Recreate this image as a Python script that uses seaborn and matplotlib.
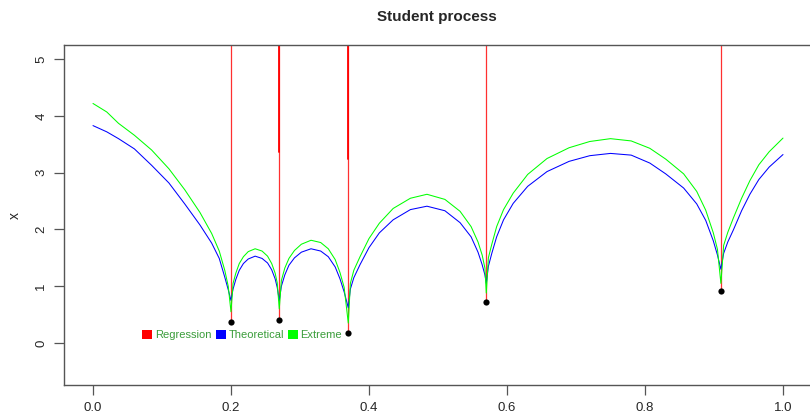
import numpy as np
import pandas as pd
import matplotlib
matplotlib.use("Agg")
import matplotlib.pyplot as plt
from matplotlib.patches import Patch
import seaborn as sns

# jump points, dots under them
jumps = [0.2, 0.27, 0.37, 0.57, 0.91]
dot_y = [0.37, 0.40, 0.18, 0.73, 0.92]
# thick red part of the vertical lines (start height)
thick_x = [0.27, 0.37]
thick_from = [3.37, 3.25]

# theoretical curve (blue)
theo_x = [0.0, 0.02, 0.037, 0.06, 0.085, 0.11, 0.133, 0.155, 0.172, 0.183, 0.191, 0.196, 0.2,
          0.203, 0.207, 0.212, 0.218, 0.225, 0.235, 0.245, 0.253, 0.259, 0.264, 0.267, 0.27,
          0.273, 0.278, 0.284, 0.292, 0.302, 0.316, 0.33, 0.341, 0.351, 0.358, 0.364, 0.37,
          0.373, 0.378, 0.387, 0.40, 0.415, 0.435, 0.46, 0.484, 0.51, 0.532, 0.548, 0.558, 0.564, 0.568, 0.57,
          0.573, 0.578, 0.585, 0.595, 0.609, 0.63, 0.658, 0.69, 0.72, 0.75, 0.78, 0.807, 0.83, 0.856, 0.875,
          0.888, 0.899, 0.905, 0.91,
          0.914, 0.92, 0.928, 0.94, 0.952, 0.965, 0.98, 1.0]
theo_y = [3.83, 3.72, 3.60, 3.42, 3.13, 2.82, 2.45, 2.08, 1.76, 1.49, 1.16, 0.94, 0.75,
          0.95, 1.12, 1.28, 1.40, 1.48, 1.53, 1.49, 1.41, 1.29, 1.13, 0.98, 0.75,
          1.00, 1.20, 1.37, 1.50, 1.60, 1.66, 1.62, 1.52, 1.34, 1.13, 0.90, 0.62,
          0.95, 1.15, 1.38, 1.68, 1.94, 2.17, 2.35, 2.41, 2.33, 2.12, 1.87, 1.60, 1.38, 1.20, 1.05,
          1.35, 1.58, 1.87, 2.17, 2.46, 2.76, 3.02, 3.20, 3.30, 3.34, 3.31, 3.17, 2.98, 2.73, 2.45,
          2.16, 1.80, 1.55, 1.30,
          1.58, 1.78, 1.99, 2.33, 2.62, 2.88, 3.10, 3.32]

# extreme curve (green)
ext_x = theo_x
ext_y = [4.22, 4.07, 3.87, 3.66, 3.40, 3.07, 2.70, 2.30, 1.93, 1.62, 1.28, 1.00, 0.55,
         1.05, 1.23, 1.40, 1.52, 1.61, 1.66, 1.62, 1.53, 1.40, 1.23, 1.06, 0.60,
         1.10, 1.32, 1.49, 1.63, 1.74, 1.81, 1.77, 1.66, 1.47, 1.24, 0.98, 0.35,
         1.05, 1.28, 1.52, 1.84, 2.11, 2.37, 2.55, 2.62, 2.53, 2.32, 2.05, 1.78, 1.55, 1.32, 0.88,
         1.50, 1.74, 2.05, 2.35, 2.64, 2.97, 3.25, 3.44, 3.55, 3.60, 3.56, 3.43, 3.24, 2.98, 2.67,
         2.34, 1.94, 1.65, 1.05,
         1.72, 1.95, 2.20, 2.55, 2.86, 3.14, 3.37, 3.61]

x_ticks = [0.0, 0.2, 0.4, 0.6, 0.8, 1.0]
y_ticks = [0, 1, 2, 3, 4, 5]

sns.set_style("white")
plt.rcParams["font.family"] = ["Liberation Sans", "DejaVu Sans"]

fig = plt.figure(figsize=(8.1, 4.15), dpi=100)
ax = fig.add_axes([64 / 810, 30 / 415, 746.6 / 810, 340 / 415])
ax.set_xlim(-0.042, 1.04)
ax.set_ylim(-0.74, 5.25)

df_t = pd.DataFrame({"t": theo_x, "v": theo_y})
df_e = pd.DataFrame({"t": ext_x, "v": ext_y})

# red vertical lines from the dots up to the top
for xj, yd in zip(jumps, dot_y):
    ax.plot([xj, xj], [yd, 5.25], color="#ff3030", lw=0.9, zorder=1)
for xj, y0 in zip(thick_x, thick_from):
    ax.plot([xj, xj], [y0, 5.25], color="#ff0000", lw=1.3, zorder=1)

sns.lineplot(data=df_t, x="t", y="v", sort=False, estimator=None, color="#0000ff",
             lw=0.75, ax=ax, zorder=2)
sns.lineplot(data=df_e, x="t", y="v", sort=False, estimator=None, color="#00ff00",
             lw=0.75, ax=ax, zorder=3)
sns.scatterplot(x=jumps, y=dot_y, color="black", s=20, ax=ax, zorder=4, linewidth=0)

ax.set_xticks(x_ticks)
ax.set_xticklabels(["0.0", "0.2", "0.4", "0.6", "0.8", "1.0"])
ax.set_yticks(y_ticks)
ax.set_yticklabels([str(v) for v in y_ticks], rotation=90, va="center")
ax.tick_params(axis="both", direction="out", length=7, width=0.9, color="#555555",
               labelsize=9.5, pad=5, left=True, bottom=True)
for side in ["left", "bottom", "top"]:
    ax.spines[side].set_color("#555555")
    ax.spines[side].set_linewidth(1.0)
ax.spines["right"].set_visible(False)

ax.set_xlabel("")
ax.set_ylabel("x", fontsize=10, labelpad=10)
ax.set_title("Student process", fontsize=11, fontweight="bold", pad=17)

handles = [Patch(facecolor="#ff0000", edgecolor="none"),
           Patch(facecolor="#0000ff", edgecolor="none"),
           Patch(facecolor="#00ff00", edgecolor="none")]
ax.legend(handles, ["Regression", "Theoretical", "Extreme"], loc="center left",
          bbox_to_anchor=(0.105, 0.147), ncol=3, frameon=False, fontsize=8,
          labelcolor="#3a9d3a", handlelength=0.9, handleheight=0.9,
          handletextpad=0.25, columnspacing=0.35, borderpad=0, borderaxespad=0)

fig.savefig("out.png", dpi=100)
